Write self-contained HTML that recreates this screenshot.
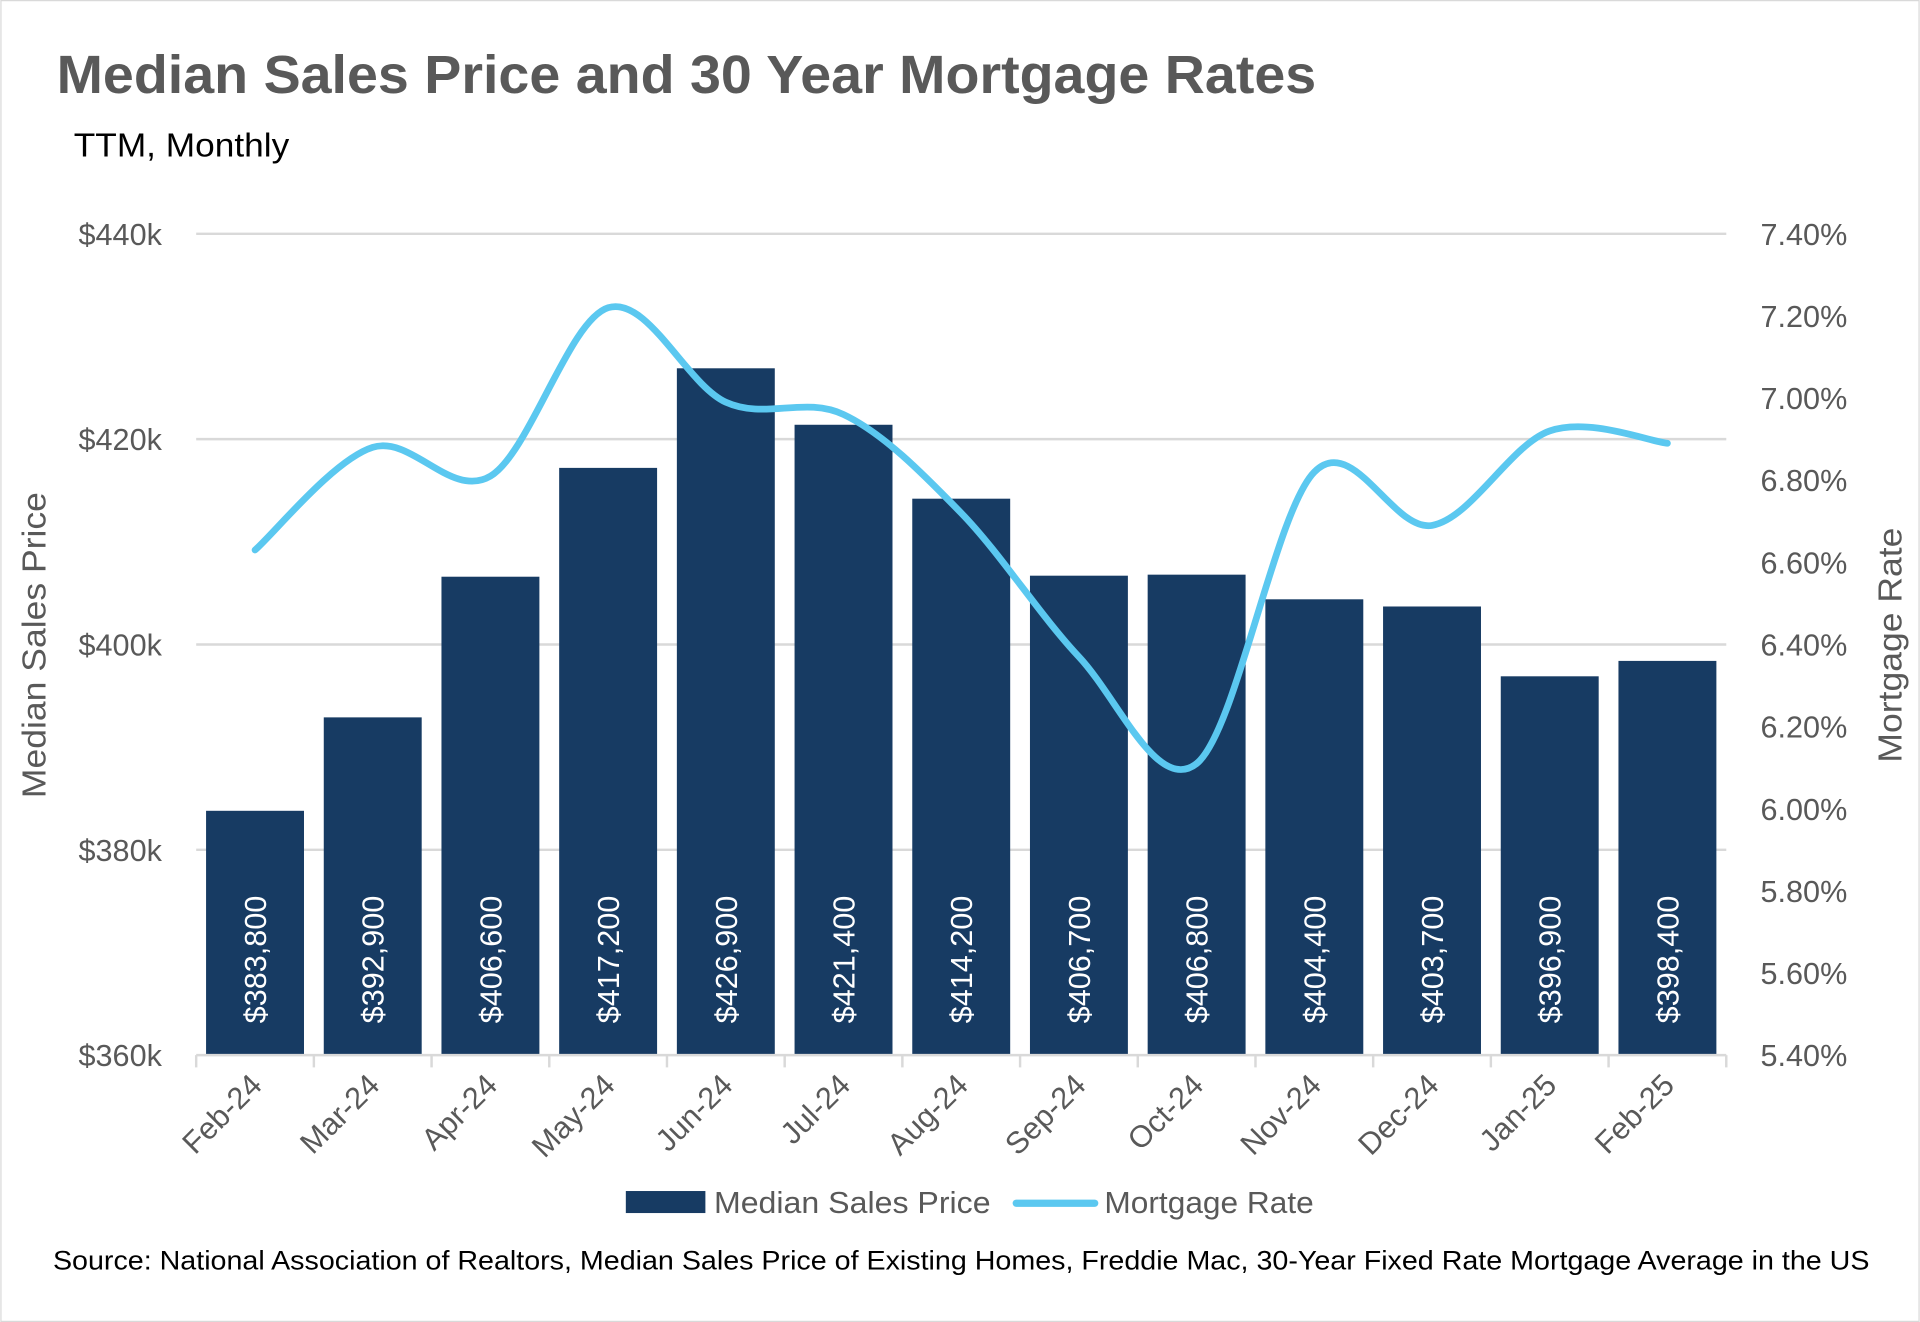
<!DOCTYPE html>
<html><head><meta charset="utf-8"><style>
html,body{margin:0;padding:0;background:#fff}
svg{display:block;font-family:"Liberation Sans",sans-serif}
</style></head><body>
<svg id="chart" width="1920" height="1322" viewBox="0 0 1568 1080" xmlns="http://www.w3.org/2000/svg">
<rect x="0.5" y="0.5" width="1567" height="1079" fill="#fff" stroke="#d9d9d9"/>
<text x="46" y="76" font-size="44" font-weight="bold" fill="#595959" textLength="1029" lengthAdjust="spacingAndGlyphs">Median Sales Price and 30 Year Mortgage Rates</text>
<text x="60" y="128" font-size="27" fill="#000" textLength="176" lengthAdjust="spacingAndGlyphs">TTM, Monthly</text>
<g id="grid"></g><g id="bars"></g><g id="line"></g><g id="axes"></g>
<text transform="translate(37,527) rotate(-90)" text-anchor="middle" font-size="27" fill="#595959" textLength="250" lengthAdjust="spacingAndGlyphs">Median Sales Price</text>
<text transform="translate(1553,527) rotate(-90)" text-anchor="middle" font-size="27" fill="#595959" textLength="192" lengthAdjust="spacingAndGlyphs">Mortgage Rate</text>
<g>
<rect x="511" y="973" width="65" height="18" fill="#173b63"/>
<text x="583" y="991" font-size="25" fill="#595959" textLength="226" lengthAdjust="spacingAndGlyphs">Median Sales Price</text>
<line x1="830" y1="983" x2="894" y2="983" stroke="#5bc8f0" stroke-width="6" stroke-linecap="round"/>
<text x="902" y="991" font-size="25" fill="#595959" textLength="171" lengthAdjust="spacingAndGlyphs">Mortgage Rate</text>
</g>
<text x="43" y="1037" font-size="22" fill="#000" textLength="1484" lengthAdjust="spacingAndGlyphs">Source: National Association of Realtors, Median Sales Price of Existing Homes, Freddie Mac, 30-Year Fixed Rate Mortgage Average in the US</text>
</svg>
<script>
const categories=["Feb-24","Mar-24","Apr-24","May-24","Jun-24","Jul-24","Aug-24","Sep-24","Oct-24","Nov-24","Dec-24","Jan-25","Feb-25"];
const prices=[383800,392900,406600,417200,426900,421400,414200,406700,406800,404400,403700,396900,398400];
const rates=[6.63,6.88,6.81,7.22,6.99,6.96,6.72,6.37,6.11,6.82,6.69,6.92,6.89];
const leftTicks=[360000,380000,400000,420000,440000];
const rightTicks=[5.4,5.6,5.8,6.0,6.2,6.4,6.6,6.8,7.0,7.2,7.4];

const NS="http://www.w3.org/2000/svg";
const X0=160,X1=1410,YT=191,YB=862;
const band=(X1-X0)/categories.length;
const xC=i=>X0+band*(i+0.5);
const yL=v=>YB-(v-360000)/(440000-360000)*(YB-YT);
const yR=v=>YB-(v-5.4)/(7.4-5.4)*(YB-YT);
function mk(tag,attrs,parent,txt){const e=document.createElementNS(NS,tag);for(const k in attrs)e.setAttribute(k,attrs[k]);if(txt!==undefined)e.textContent=txt;document.getElementById(parent).appendChild(e);return e;}

leftTicks.forEach((t,i)=>{
  if(i>0){const g=mk('line',{x1:X0,x2:X1,y1:yL(t),y2:yL(t),stroke:'#d9d9d9','stroke-width':2},'grid');
  
  }
  const tx=mk('text',{x:132,y:yL(t)+9,'text-anchor':'end','font-size':25,fill:'#595959'},'axes','$'+(t/1000)+'k');
  
  
});
rightTicks.forEach(t=>{
  const tx=mk('text',{x:1438,y:yR(t)+9,'font-size':25,fill:'#595959'},'axes',t.toFixed(2)+'%');
  
  
});
const ax=mk('line',{x1:X0,x2:X1,y1:YB,y2:YB,stroke:'#d9d9d9','stroke-width':2},'axes');


for(let i=0;i<=categories.length;i++){
  const tk=mk('line',{x1:X0+band*i,x2:X0+band*i,y1:YB,y2:YB+10,stroke:'#d9d9d9','stroke-width':2},'axes');
  
  
}
categories.forEach((c,i)=>{
  const x=xC(i);
  const b=mk('rect',{x:x-40,y:yL(prices[i]),width:80,height:YB-yL(prices[i]),fill:'#173b63'},'bars');
  
  
  const lb=mk('text',{transform:`translate(${x+9},836) rotate(-90)`,'font-size':25,fill:'#fff'},'bars','$'+prices[i].toLocaleString('en-US'));
  
  
  const xl=mk('text',{transform:`translate(${x+7},888) rotate(-45)`,'text-anchor':'end','font-size':25,fill:'#595959'},'axes',c);
  
  
});
const pts=rates.map((r,i)=>[xC(i),yR(r)]);
let d=`M${pts[0][0]},${pts[0][1]}`;
for(let i=0;i<pts.length-1;i++){
  const p0=pts[Math.max(0,i-1)],p1=pts[i],p2=pts[i+1],p3=pts[Math.min(pts.length-1,i+2)];
  const c1=[p1[0]+(p2[0]-p0[0])/6,p1[1]+(p2[1]-p0[1])/6];
  const c2=[p2[0]-(p3[0]-p1[0])/6,p2[1]-(p3[1]-p1[1])/6];
  d+=` C${c1[0]},${c1[1]} ${c2[0]},${c2[1]} ${p2[0]},${p2[1]}`;
}
const ln=mk('path',{d:d,fill:'none',stroke:'#5bc8f0','stroke-width':5.5,'stroke-linecap':'round','stroke-linejoin':'round'},'line');


</script>
</body></html>
